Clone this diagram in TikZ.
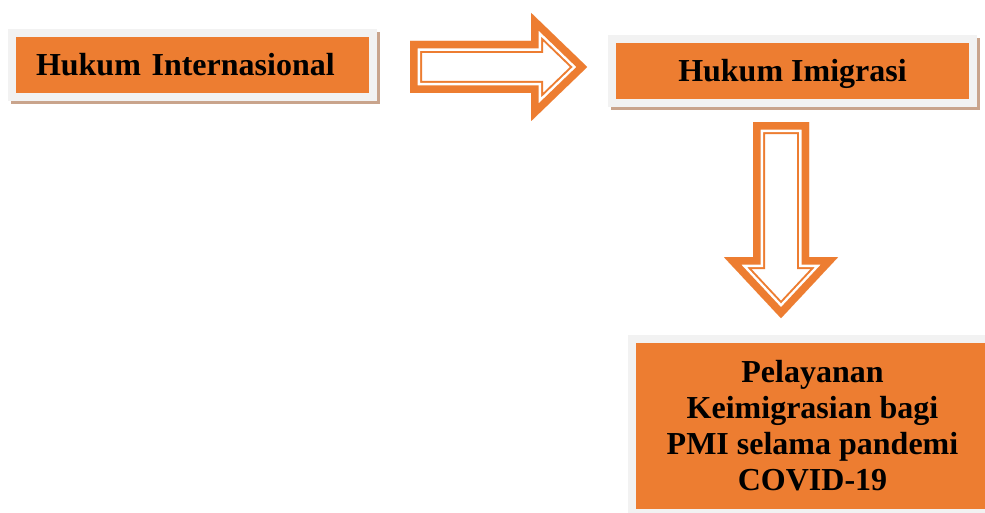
\documentclass[tikz,border=0pt]{standalone}
\usepackage{fontspec}
\setmainfont{Liberation Serif}
\definecolor{boxorange}{HTML}{ED7D31}
\definecolor{framegray}{HTML}{F2F2F2}
\definecolor{shadowtan}{HTML}{C9A48C}

% hollow block arrow: start, angle, shaft length, total length, half shaft, half head
\newcommand\hollowarrow[6]{%
  \begin{scope}[shift={(#1)}, rotate=#2]
    \clip (0,#5) -- (#3,#5) -- (#3,#6) -- (#4,0) -- (#3,-#6) -- (#3,-#5) -- (0,-#5) -- cycle;
    \foreach \w/\col in {24/boxorange, 20/white, 15/boxorange}
      \draw[line width=\w pt, \col] (0,#5) -- (#3,#5) -- (#3,#6) -- (#4,0) -- (#3,-#6) -- (#3,-#5) -- (0,-#5) -- cycle;
  \end{scope}}

\tikzset{
  topicbox/.style={fill=boxorange, minimum width=353pt, minimum height=56pt,
    font=\fontsize{32}{36}\selectfont\bfseries, text=black,
    preaction={draw=shadowtan, line width=16pt, transform canvas={shift={(3pt,-3pt)}}},
    preaction={draw=framegray, line width=16pt}},
  onelinebox/.style={topicbox, text height=22pt, text depth=0pt},
}

\begin{document}
\begin{tikzpicture}[x=1pt, y=1pt]
\clip (0,0) rectangle (985,512);
\fill[white] (0,0) rectangle (985,512);

\node[onelinebox, text width=313pt, inner xsep=20pt, align=left] (intl) at (192.5,447) {Hukum Internasional};
\node[onelinebox] (imig) at (792.5,441) {Hukum Imigrasi};
\node[topicbox, minimum height=166pt, align=center] (pel) at (812.5,86)
  {Pelayanan\\Keimigrasian bagi\\PMI selama pandemi\\COVID-19};

\coordinate (a1) at ([xshift=41pt, yshift=-2pt]intl.east);
\coordinate (a2) at ([xshift=-11.5pt, yshift=-23pt]imig.south);
\hollowarrow{a1}{0}{121}{177}{26}{54}
\hollowarrow{a2}{-90}{135}{196}{28}{57}
\end{tikzpicture}
\end{document}
